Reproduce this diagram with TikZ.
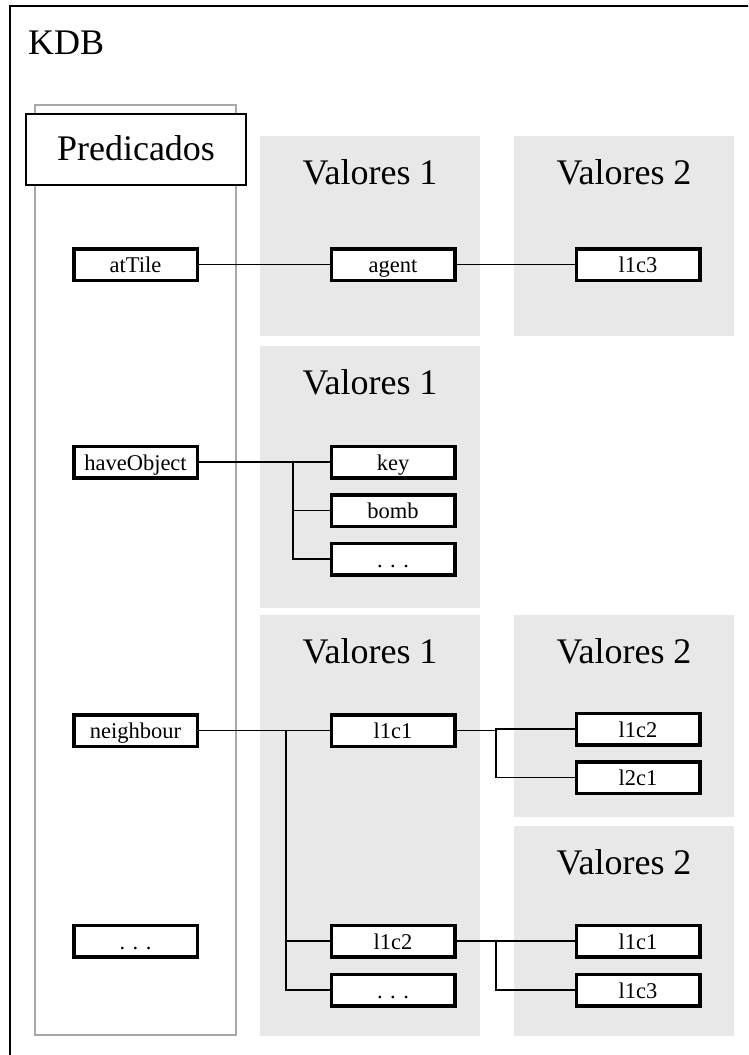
\documentclass[tikz,border=0pt]{standalone}
\usepackage{fontspec}
\setmainfont{Liberation Serif}
\definecolor{panelgray}{HTML}{E8E8E8}
\definecolor{colgray}{HTML}{A8A8A8}
\begin{document}
\begin{tikzpicture}[x=1pt,y=-1pt,
  panel/.style={fill=panelgray, draw=none},
  item/.style={draw=black, line width=3.5pt, fill=white, minimum width=123.5pt,
    minimum height=31.5pt, inner sep=0pt, font=\fontsize{22.5}{24}\selectfont,
    text height=22pt, text depth=6pt},
  wire/.style={draw=black, line width=1.1pt},
  title/.style={font=\fontsize{36}{40}\selectfont, anchor=base, inner sep=0pt}]

\useasboundingbox (0,0) rectangle (748,1055);
\clip (0,0) rectangle (748,1055);

% outer knowledge-base frame
\draw[line width=2.4pt] (10,1070) |- (760,6);
\node[title, anchor=base west] (kdb) at (28,54) {KDB};

% value panels
\fill[panel] (260,136) rectangle (480,336);
\fill[panel] (514,136) rectangle (734,336);
\fill[panel] (260,346) rectangle (480,608);
\fill[panel] (260,615) rectangle (480,1036);
\fill[panel] (514,615) rectangle (734,817);
\fill[panel] (514,826) rectangle (734,1036);

\node[title] (v1a) at (370,184) {Valores 1};
\node[title] (v2a) at (624,184) {Valores 2};
\node[title] (v1b) at (370,394) {Valores 1};
\node[title] (v1c) at (370,663) {Valores 1};
\node[title] (v2c) at (624,663) {Valores 2};
\node[title] (v2d) at (624,874) {Valores 2};

% predicate column
\draw[colgray, line width=2pt, fill=white] (35,105) rectangle (236,1035);
\draw[line width=2pt, fill=white] (26,114) rectangle (246,185);
\node[title] (pred) at (136,160) {Predicados};

% entries
\node[item] (attile) at (135.5,264.5) {atTile};
\node[item] (agent) at (393,264.5) {agent};
\node[item] (top13) at (638,264.5) {l1c3};

\node[item] (haveobj) at (135.5,462) {haveObject};
\node[item] (key) at (393,462) {key};
\node[item] (bomb) at (393,510.5) {bomb};
\node[item] (objdots) at (393,559) {. . .};

\node[item] (neigh) at (135.5,730.5) {neighbour};
\node[item] (na) at (393,730.5) {l1c1};
\node[item] (naa) at (638,729) {l1c2};
\node[item] (nab) at (638,777.5) {l2c1};

\node[item] (preddots) at (135.5,941) {. . .};
\node[item] (nb) at (393,941) {l1c2};
\node[item] (nbdots) at (393,990) {. . .};
\node[item] (nba) at (638,941) {l1c1};
\node[item] (nbb) at (638,990) {l1c3};

% branch points
\coordinate (hj) at (293,462);
\coordinate (nj) at (286,730.5);
\coordinate (aj) at (496,730.5);
\coordinate (bj) at (496,941);

% connectors
\draw[wire] (attile.east) -- (agent.west);
\draw[wire] (agent.east) -- (top13.west);

\draw[wire] (haveobj.east) -- (key.west);
\draw[wire] (hj) |- (bomb.west);
\draw[wire] (hj) |- (objdots.west);

\draw[wire] (neigh.east) -- (na.west);
\draw[wire] (nj) |- (nb.west);
\draw[wire] (nj) |- (nbdots.west);
\draw[wire] (na.east) -- (aj) |- (naa.west);
\draw[wire] (aj) |- (nab.west);
\draw[wire] (nb.east) -- (nba.west);
\draw[wire] (bj) |- (nbb.west);
\end{tikzpicture}
\end{document}
